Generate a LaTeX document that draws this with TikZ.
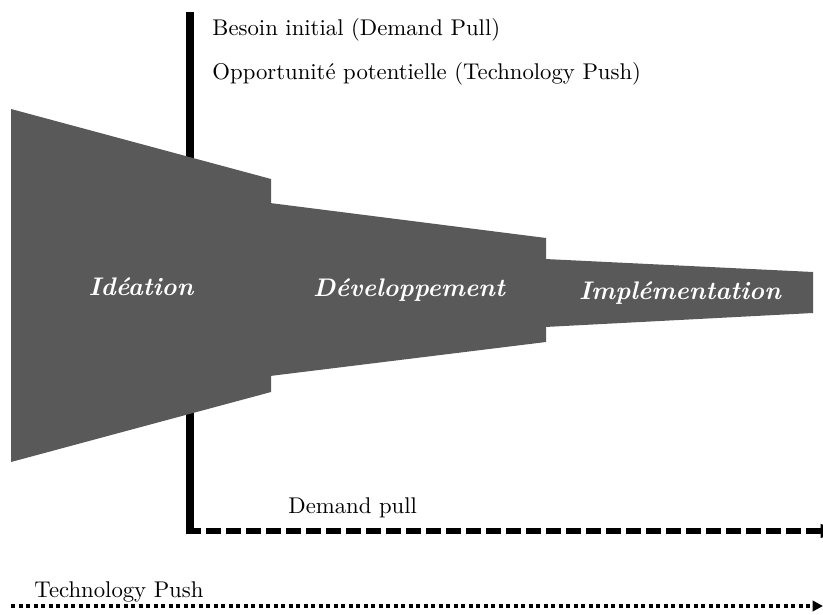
\documentclass[tikz,border=0pt]{standalone}
\usetikzlibrary{arrows.meta}
\definecolor{funnelgray}{RGB}{89,89,89}
\begin{document}
\begin{tikzpicture}[x=0.44pt,y=-0.44pt,
  funnel/.style={fill=funnelgray,draw=none},
  phase/.style={text=white,font=\fontsize{11.2}{13}\selectfont\bfseries\itshape,inner sep=0pt},
  label/.style={font=\fontsize{10}{12}\selectfont,inner sep=0pt,anchor=base west},
  axisline/.style={line width=3.5pt,line cap=butt},
  pullline/.style={line width=2.8pt,dash pattern=on 6.6pt off 2.2pt},
  pushline/.style={line width=1.8pt,dash pattern=on 1.8pt off 1.5pt}]
\useasboundingbox (0,0) rectangle (823,615);
% axes
\coordinate (top) at (190,12);
\coordinate (corner) at (190,531);
\coordinate (pullend) at (841,531);
\coordinate (pushstart) at (11,606);
\coordinate (pushend) at (823,606);
\draw[axisline] (top) -- ([yshift=-1.4pt]corner);
\draw[pullline,-{Triangle[length=9pt,width=5.5pt]}] ([xshift=-1.75pt]corner) -- (pullend);
\draw[pushline,-{Triangle[length=4.6pt,width=4.6pt]}] (pushstart) -- (pushend);
% funnel
\fill[funnel] (11,109) -- (271,179) -- (271,392) -- (11,462) -- cycle;
\fill[funnel] (270,203) -- (546,238) -- (546,342) -- (270,376) -- cycle;
\fill[funnel] (545,259) -- (813,272) -- (813,313) -- (545,327) -- cycle;
\node[phase] (ideation) at (141,287) {Idéation};
\node[phase] (dev) at (409,290) {Développement};
\node[phase] (impl) at (680,293) {Implémentation};
% labels
\node[label] (besoin) at (212,36) {Besoin initial (Demand Pull)};
\node[label] (opp) at (212,80) {Opportunité potentielle (Technology Push)};
\node[label] (dpull) at (288,513) {Demand pull};
\node[label] (tpush) at (34,597) {Technology Push};
\end{tikzpicture}
\end{document}
